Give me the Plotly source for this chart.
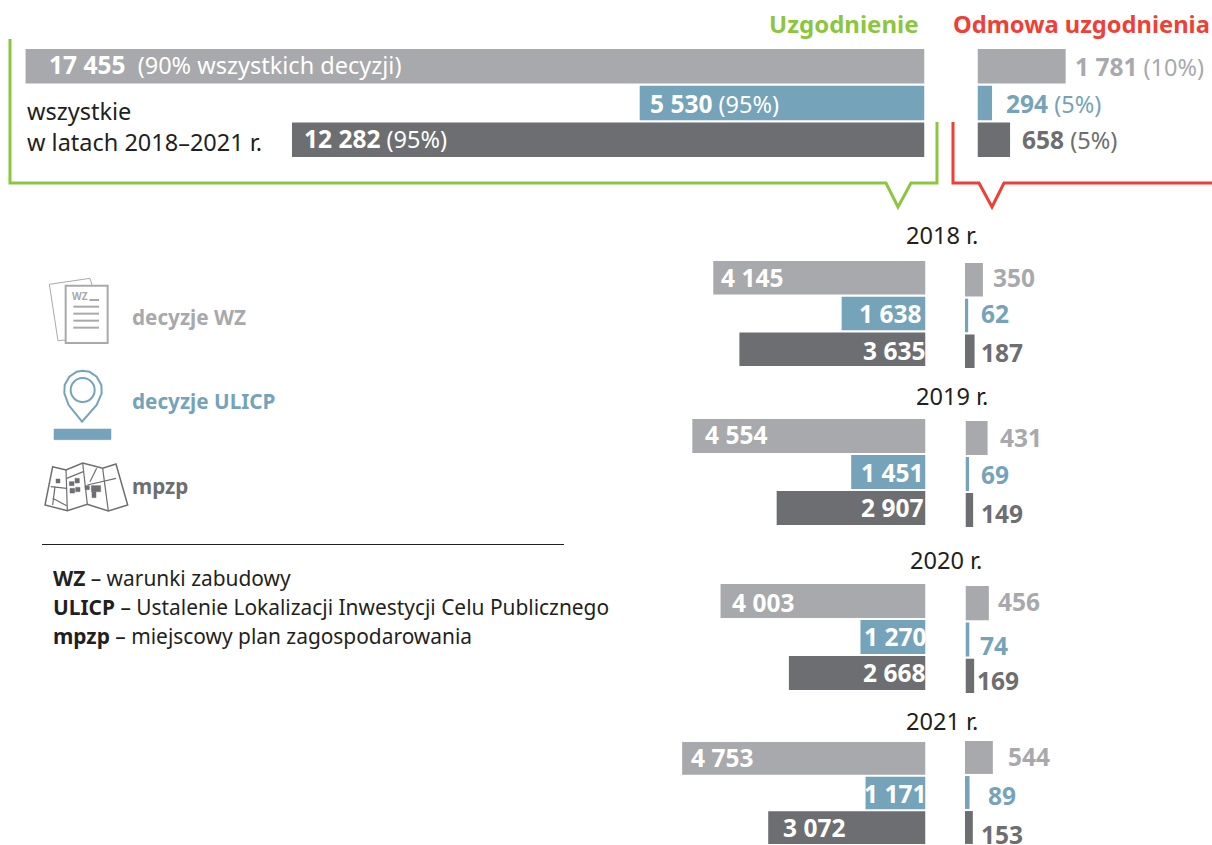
import plotly.graph_objects as go

# ---------- data ----------
kinds = ["decyzje WZ", "decyzje ULICP", "mpzp"]
total_ok = [17455, 5530, 12282]
total_ok_pct = ["90% wszystkich decyzji", "95%", "95%"]
total_no = [1781, 294, 658]
total_no_pct = ["10%", "5%", "5%"]
years = ["2018 r.", "2019 r.", "2020 r.", "2021 r."]
ok_wz = [4145, 4554, 4003, 4753]
ok_ulicp = [1638, 1451, 1270, 1171]
ok_mpzp = [3635, 2907, 2668, 3072]
no_wz = [350, 431, 456, 544]
no_ulicp = [62, 69, 74, 89]
no_mpzp = [187, 149, 169, 153]

# ---------- style ----------
W, H = 1212, 845
FONT = "Noto Sans"
GRAY, BLUE, DARK = "#A7A9AC", "#75A3B9", "#6D6E71"
GREEN, RED, INK = "#8CC63F", "#EF3F36", "#231F20"
COLORS = [GRAY, BLUE, DARK]
K_TOP = 0.0515  # px per decision, summary block
K_YEAR = 0.0512  # px per decision, yearly blocks


def fx(x):
    return x / W


def fy(y):
    return 1 - y / H


def num(v):
    return f"{v:,}".replace(",", " ")


fig = go.Figure()
layout = {}
axis_no = [0]


def add_group(values, zero_px, top_px, bottom_px, left_side, K):
    axis_no[0] += 1
    n = axis_no[0]
    sfx = "" if n == 1 else str(n)
    maxv = 17800 if left_side else 3000
    span = maxv * K
    if left_side:
        dom = [fx(zero_px - span), fx(zero_px)]
        rng = [maxv, 0]
    else:
        dom = [fx(zero_px), fx(zero_px + span)]
        rng = [0, maxv]
    dom = [max(dom[0], 0), min(dom[1], 1)]
    if not left_side and zero_px + span > W:
        rng = [0, (W - zero_px) / K]
        dom = [fx(zero_px), 1]
    layout["xaxis" + sfx] = dict(domain=dom, range=rng, visible=False, anchor="y" + sfx, fixedrange=True)
    layout["yaxis" + sfx] = dict(
        domain=[max(fy(bottom_px), 0), fy(top_px)], range=[2.5, -0.5], type="category",
        categoryorder="array", categoryarray=kinds, visible=False, anchor="x" + sfx, fixedrange=True,
    )
    fig.add_trace(go.Bar(
        x=values, y=kinds, orientation="h", marker=dict(color=COLORS, line=dict(width=0)),
        xaxis="x" + sfx, yaxis="y" + sfx, showlegend=False, width=0.94, hoverinfo="x+y",
    ))


# top summary groups
add_group(total_ok, 924.5, 48, 158, True, K_TOP)
add_group(total_no, 977.5, 48, 158, False, 0.0495)
# yearly groups: left zero, right zero, left band, right band
LEFT_ZERO = [925.5, 925.5, 925.5, 925.5]
RIGHT_ZERO = [965, 965.5, 965.5, 965]
LEFT_BAND = [(260, 367), (418, 526), (583, 691), (741, 845)]
RIGHT_BAND = [(262, 369), (420, 528), (585, 694), (740, 845)]
for i in range(4):
    add_group([ok_wz[i], ok_ulicp[i], ok_mpzp[i]], LEFT_ZERO[i], *LEFT_BAND[i], True, K_YEAR)
    add_group([no_wz[i], no_ulicp[i], no_mpzp[i]], RIGHT_ZERO[i], *RIGHT_BAND[i], False, K_YEAR)

annotations = []


def txt(x, y, s, size=23, color=INK, anchor="left"):
    annotations.append(dict(
        x=fx(x), y=fy(y), xref="paper", yref="paper", text=s, showarrow=False,
        xanchor=anchor, yanchor="middle", borderpad=0, borderwidth=0,
        font=dict(family=FONT, size=size, color=color),
    ))


def b(s):
    return f"<b>{s}</b>"


# headings
txt(919, 24, b("Uzgodnienie"), 24, GREEN, "right")
txt(1210, 24, b("Odmowa uzgodnienia"), 23.7, RED, "right")

# top labels
NUMS = 24.5
PCT = 23.5


def mixed(v, note, gap=" "):
    return f"<span style='font-size:{NUMS}px'>{b(num(v))}</span>{gap}({note})"


txt(49, 65, mixed(total_ok[0], total_ok_pct[0], "  "), PCT, "white")
txt(650, 103, mixed(total_ok[1], total_ok_pct[1]), PCT, "white")
txt(304, 138, mixed(total_ok[2], total_ok_pct[2]), PCT, "white")
txt(27, 111, "wszystkie", 23.5)
txt(27, 142, "w latach 2018–2021 r.", 23.5)
txt(1075, 66, mixed(total_no[0], total_no_pct[0]), PCT, GRAY)
txt(1006, 103, mixed(total_no[1], total_no_pct[1]), PCT, BLUE)
txt(1022, 139, mixed(total_no[2], total_no_pct[2]), PCT, DARK)

# year captions
for name, x, y in zip(years, [906, 916, 910, 906], [235, 396, 560, 721]):
    txt(x, y, name, 23.6)

# yearly value labels
ok_pos = [
    [(721, 277, "left"), (921, 314, "right"), (925, 350, "right")],
    [(705, 434, "left"), (923, 472, "right"), (923, 507, "right")],
    [(732, 602, "left"), (926, 636, "right"), (925, 672, "right")],
    [(691, 757, "left"), (926, 793, "right"), (783, 827, "left")],
]
no_pos = [
    [(993, 277), (981, 314), (981, 352)],
    [(1000, 437), (981, 474), (981, 513)],
    [(998, 601), (980, 645), (977, 680)],
    [(1008, 756), (988, 795), (981, 834)],
]
for i in range(4):
    vals = [ok_wz[i], ok_ulicp[i], ok_mpzp[i]]
    for v, (x, y, a) in zip(vals, ok_pos[i]):
        txt(x, y, b(num(v)), 24.5, "white", a)
    vals = [no_wz[i], no_ulicp[i], no_mpzp[i]]
    for v, (x, y), c in zip(vals, no_pos[i], COLORS):
        txt(x, y, b(num(v)), 24.5, c)

# legend
txt(132, 317, b(kinds[0]), 20.7, GRAY)
txt(132, 401, b(kinds[1]), 20.7, BLUE)
txt(132, 486, b(kinds[2]), 20.7, DARK)

# definitions
txt(53, 578, f"{b('WZ')} – warunki zabudowy", 20.9)
txt(53, 607, f"{b('ULICP')} – Ustalenie Lokalizacji Inwestycji Celu Publicznego", 20.9)
txt(53, 636, f"{b('mpzp')} – miejscowy plan zagospodarowania", 20.9)

# ---------- decoration ----------
shapes = []


def path(points, color, width=1.5, close=False, fill=None):
    d = "M " + " L ".join(f"{fx(x):.5f},{fy(y):.5f}" for x, y in points)
    if close:
        d += " Z"
    s = dict(type="path", xref="paper", yref="paper", path=d, line=dict(color=color, width=width), layer="above")
    if fill:
        s["fillcolor"] = fill
    shapes.append(s)


def z(points):
    # icon geometry measured in 3x crop units
    return [(30 + x / 3, 265 + y / 3) for x, y in points]


# callouts
path([(10, 39), (10, 183), (886, 183), (898, 207), (911, 183), (937, 183), (937, 122)], GREEN, 3)
path([(953, 122), (953, 183), (979, 183), (992, 207), (1004, 183), (1212, 183)], RED, 3)
# separator
path([(42, 544.5), (564, 544.5)], INK, 1)

# document icon
path(z([(107, 225), (84, 227), (58, 58), (180, 40), (186, 60)]), GRAY, 1)
path(z([(107, 62), (233, 62), (233, 234), (107, 234)]), GRAY, 2, close=True)
for yy in (125, 146, 167, 188):
    path(z([(130, yy), (207, yy)]), GRAY, 2)
path(z([(178, 105), (207, 105)]), GRAY, 2)
annotations.append(dict(x=fx(70), y=fy(296.5), xref="paper", yref="paper", text="<b>WZ</b>", showarrow=False,
                        xanchor="left", yanchor="middle", font=dict(family=FONT, size=10, color=GRAY)))

# pin icon
cx, cy = fx(30 + 158 / 3), fy(265 + 375 / 3)
rx, ry = 12 / W, 12 / H
shapes.append(dict(type="circle", xref="paper", yref="paper", x0=cx - rx, x1=cx + rx, y0=cy - ry, y1=cy + ry,
                   line=dict(color=BLUE, width=2)))
path(z([(156, 470), (116, 420), (103, 385), (104, 360), (118, 335), (140, 320), (158, 317), (178, 320),
        (200, 335), (214, 360), (215, 385), (200, 420)]), BLUE, 2, close=True)
path(z([(72, 492), (243, 492), (243, 524), (72, 524)]), BLUE, 0.5, close=True, fill=BLUE)

# map icon
path(z([(68, 605), (108, 615), (158, 594), (218, 610), (258, 597), (293, 720), (235, 738), (172, 718),
        (112, 737), (45, 720)]), DARK, 1.5, close=True)
for seg in (
    [(108, 615), (112, 737)], [(158, 594), (172, 718)], [(218, 610), (235, 738)],
    [(62, 665), (110, 670)], [(172, 660), (258, 640)], [(68, 720), (75, 665)],
    [(68, 700), (110, 722)], [(180, 650), (200, 610)], [(110, 640), (160, 620)],
):
    path(z(seg), DARK, 1.2)
for x0, y0, x1, y1 in (
    (78, 642, 90, 654), (118, 650, 132, 662), (135, 640, 148, 654), (120, 670, 134, 684),
    (137, 667, 150, 680), (165, 662, 178, 674), (184, 662, 212, 680), (186, 680, 198, 698),
):
    path(z([(x0, y0), (x1, y0), (x1, y1), (x0, y1)]), DARK, 0.5, close=True, fill=DARK)

layout.update(
    width=W, height=H, autosize=False, margin=dict(l=0, r=0, t=0, b=0),
    paper_bgcolor="white", plot_bgcolor="white", barmode="overlay",
    annotations=annotations, shapes=shapes, font=dict(family=FONT),
)
fig.update_layout(**layout)
fig.write_html("out.html", config={"displayModeBar": False}, post_script="document.body.style.margin='0';document.body.style.overflow='hidden';")
